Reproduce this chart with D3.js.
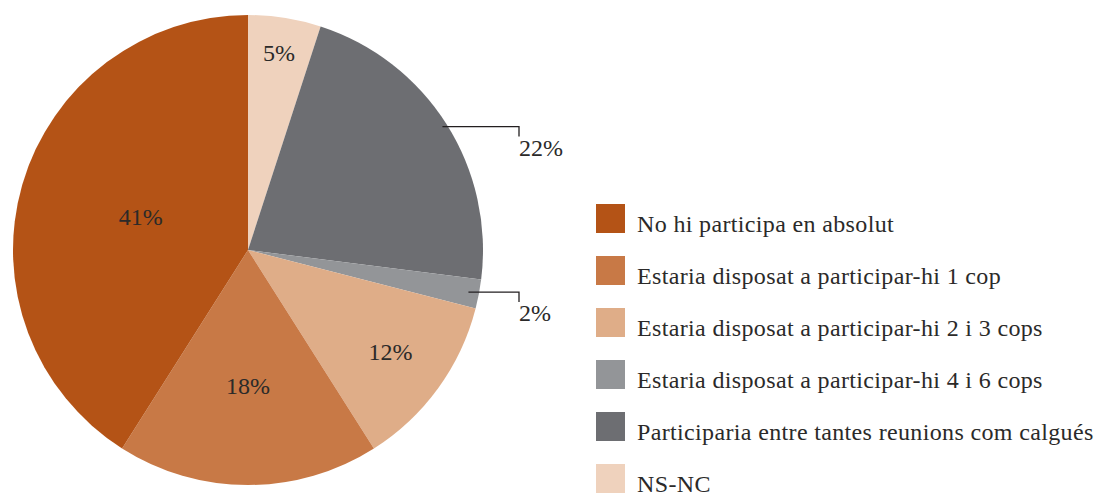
<!DOCTYPE html>
<html>
<head>
<meta charset="utf-8">
<script src="https://cdn.jsdelivr.net/npm/d3@7"></script>
<style>
  body { margin: 0; background: #fff; }
  svg { display: block; }
  text { font-family: "Liberation Serif", "DejaVu Serif", serif; fill: #2b2a29; }
</style>
</head>
<body>
<svg id="chart" width="1101" height="493"></svg>
<script>
// categories in legend order
const categories = [
  "No hi participa en absolut",
  "Estaria disposat a participar-hi 1 cop",
  "Estaria disposat a participar-hi 2 i 3 cops",
  "Estaria disposat a participar-hi 4 i 6 cops",
  "Participaria entre tantes reunions com calgués",
  "NS-NC"
];
const values = [41, 18, 12, 2, 22, 5];
const colors = ["#b45316", "#c87946", "#dfad88", "#939598", "#6d6e72", "#efd2bd"];

// the pie is drawn clockwise from 12 o'clock in reverse legend order
const pieOrder = [5, 4, 3, 2, 1, 0];

const cx = 248, cy = 250, R = 235;
// label distance from centre, as a fraction of the radius
const labelR = [0.475, 0.585, 0.75, null, null, 0.84];

const svg = d3.select("#chart");
const g = svg.append("g").attr("transform", `translate(${cx},${cy})`);

const slices = d3.pie().sort(null).value(i => values[i])(pieOrder);
const arc = d3.arc().innerRadius(0).outerRadius(R);

g.selectAll("path.slice").data(slices).enter().append("path")
  .attr("class", "slice")
  .attr("d", arc)
  .attr("fill", d => colors[d.data]);

// labels inside the slices
const labelArc = d => d3.arc().innerRadius(0).outerRadius(2 * R * labelR[d.data]).centroid(d);
g.selectAll("text.inner").data(slices.filter(d => labelR[d.data] != null)).enter().append("text")
  .attr("class", "inner")
  .attr("text-anchor", "middle")
  .attr("font-size", 24)
  .attr("dy", "0.35em")
  .attr("x", d => labelArc(d)[0])
  .attr("y", d => labelArc(d)[1] - 2)
  .text(d => values[d.data] + "%");

// outside labels with leader lines
const outer = slices.filter(d => labelR[d.data] == null);
const elbowX = 271; // relative to centre
outer.forEach(d => {
  const mid = (d.startAngle + d.endAngle) / 2;
  const r0 = d.data === 4 ? 0.98 * R : 0.955 * R;
  const x0 = Math.sin(mid) * r0, y0 = -Math.cos(mid) * r0;
  g.append("path")
    .attr("d", `M${x0},${y0}H${elbowX}V${y0 + 10}`)
    .attr("fill", "none")
    .attr("stroke", "#231f20")
    .attr("stroke-width", 1.3);
  g.append("text")
    .attr("font-size", 24)
    .attr("x", elbowX)
    .attr("y", y0 + 29)
    .text(values[d.data] + "%");
});

// legend
const legend = svg.append("g").attr("transform", "translate(596,204)");
const row = legend.selectAll("g").data(categories).enter().append("g")
  .attr("transform", (d, i) => `translate(0,${i * 52})`);
row.append("rect").attr("width", 29).attr("height", 29).attr("fill", (d, i) => colors[i]);
row.append("text").attr("x", 41).attr("y", 28).attr("font-size", 24)
  .attr("letter-spacing", 0.35).text(d => d);
</script>
</body>
</html>
